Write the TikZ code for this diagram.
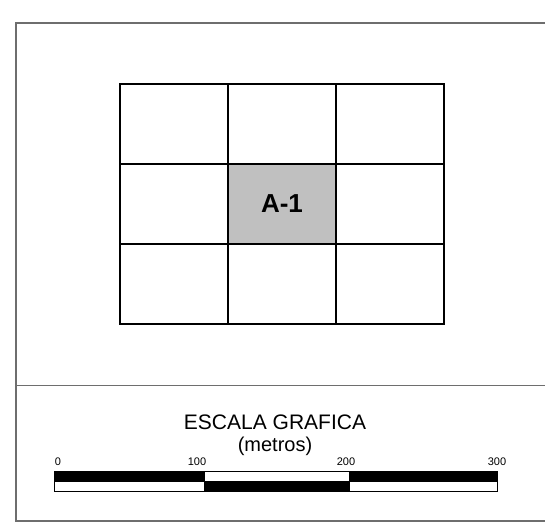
\documentclass[tikz,border=0pt]{standalone}
\usepackage{fontspec}
\setmainfont{Liberation Sans}
\usepackage{xcolor}
\usepackage{tikz}
\usetikzlibrary{calc}
\definecolor{framegray}{HTML}{6E6E6E}
\definecolor{cellgray}{HTML}{C0C0C0}
\tikzstyle{cell} = [draw, line width=1.1pt, minimum width=108pt, minimum height=80pt, inner sep=0pt]
\tikzstyle{seg} = [draw, line width=1pt, minimum height=10pt, inner sep=0pt, anchor=north west]
\tikzstyle{tick} = [font=\fontsize{11}{11}\selectfont, inner sep=0pt]

\begin{document}
\begin{tikzpicture}[x=1pt, y=-1pt]
	\useasboundingbox (0, 0) rectangle (545, 523) ;
	
	% outer frame, open to the right
	\draw[framegray, line width=1.2pt] (545, 23) -- (16, 23) -- (16, 521) -- (545, 521) ;
	\draw[framegray, line width=1pt] (16, 385) -- (545, 385) ;
	
	% index grid
	\foreach \r/\y in {1/124, 2/204, 3/284}
	{
		\foreach \c/\x in {1/174, 2/282, 3/390}
		{
			\node[cell] (C\r\c) at (\x, \y) {} ;
		}
	}
	\node[cell, fill=cellgray, font=\bfseries\fontsize{26}{26}\selectfont] (C22) at (282, 204) {A-1} ;
	
	% scale
	\node[font=\fontsize{21}{21}\selectfont] (title) at (275, 422) {ESCALA GRAFICA} ;
	\node[font=\fontsize{20}{20}\selectfont] (unit) at (275, 446) {(metros)} ;
	
	\node[seg, fill=black, minimum width=150pt] (S1) at (54, 471) {} ;
	\node[seg, fill=white, minimum width=145pt] (S2) at (204, 471) {} ;
	\node[seg, fill=black, minimum width=148pt] (S3) at (349, 471) {} ;
	\node[seg, fill=white, minimum width=150pt] (T1) at (54, 481) {} ;
	\node[seg, fill=black, minimum width=145pt] (T2) at (204, 481) {} ;
	\node[seg, fill=white, minimum width=148pt] (T3) at (349, 481) {} ;
	
	\node[tick] (L0) at (58, 462) {0} ;
	\node[tick] (L1) at (197, 462) {100} ;
	\node[tick] (L2) at (346, 462) {200} ;
	\node[tick] (L3) at (497, 462) {300} ;
\end{tikzpicture}
\end{document}
